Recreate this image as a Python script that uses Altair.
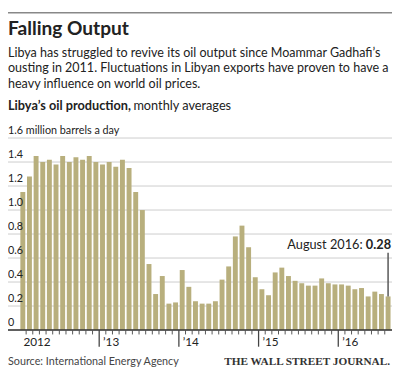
import altair as alt
import pandas as pd

# ---- data (million barrels a day, monthly averages, Jan 2012 - Aug 2016)
y2012 = [1.15, 1.28, 1.45, 1.40, 1.42, 1.38, 1.45, 1.40, 1.44, 1.42, 1.45, 1.40]
y2013 = [1.38, 1.40, 1.36, 1.42, 1.35, 1.15, 1.00, 0.55, 0.30, 0.45, 0.22, 0.23]
y2014 = [0.50, 0.36, 0.24, 0.22, 0.22, 0.24, 0.42, 0.53, 0.78, 0.87, 0.69, 0.44]
y2015 = [0.34, 0.29, 0.48, 0.52, 0.45, 0.41, 0.39, 0.37, 0.37, 0.43, 0.39, 0.38]
y2016 = [0.38, 0.37, 0.34, 0.35, 0.28, 0.32, 0.30, 0.28]

year_labels = ["2012", "\u201913", "\u201914", "\u201915", "\u201916"]
y_ticks = [0, 0.2, 0.4, 0.6, 0.8, 1.0, 1.2, 1.4, 1.6]
y_tick_labels = ["0", "0.2", "0.4", "0.6", "0.8", "1.0", "1.2", "1.4",
                 "1.6 million barrels a day"]

title = "Falling Output"
sub1 = "Libya has struggled to revive its oil output since Moammar Gadhafi\u2019s"
sub2 = "ousting in 2011. Fluctuations in Libyan exports have proven to have a"
sub3 = "heavy influence on world oil prices."
chart_label_bold = "Libya\u2019s oil production,"
chart_label_rest = "monthly averages"
annot_label = "August 2016:"
annot_value = "0.28"
source = "Source: International Energy Agency"
credit = "THE WALL STREET JOURNAL."

values = y2012 + y2013 + y2014 + y2015 + y2016
n = len(values)
bars = pd.DataFrame({
    "i": list(range(n)),
    "v": values,
})
bars["x0"] = bars["i"] + 0.13
bars["x1"] = bars["i"] + 0.87
bars["zero"] = 0.0

years = pd.DataFrame({"pos": [0, 12, 24, 36, 48], "label": year_labels})
major = years[years["pos"] > 0]
minor = pd.DataFrame({"pos": [m for m in range(1, n) if m % 12 != 0]})
last = pd.DataFrame({"pos": [n - 0.5], "v": [values[-1]]})
gridd = pd.DataFrame({"g": y_ticks, "lab": y_tick_labels})

W, H = 392, 196
FONT = "Lato"
INK = "#222222"
BAR = "#b8af7d"

xs = alt.Scale(domain=[-1.73, 56.09], nice=False, zero=False)
ys = alt.Scale(domain=[0, 1.6], nice=False)

grid = alt.Chart(gridd).mark_rule(color="#cccccc", strokeWidth=1).encode(
    y=alt.Y("g:Q", scale=ys, axis=None),
    x=alt.value(0), x2=alt.value(W),
)
grid_labels = alt.Chart(gridd).mark_text(align="left", baseline="alphabetic", dy=-4,
                                         font=FONT, fontSize=11, color=INK).encode(
    y=alt.Y("g:Q", scale=ys, axis=None), x=alt.value(0), text="lab:N")

bar_layer = alt.Chart(bars).mark_rect(color=BAR).encode(
    x=alt.X("x0:Q", scale=xs, axis=None),
    x2="x1:Q",
    y=alt.Y("v:Q", scale=ys, axis=None),
    y2="zero:Q",
)

baseline = alt.Chart(pd.DataFrame({"a": [0]})).mark_rule(color="#333333", strokeWidth=1.5).encode(
    x=alt.value(0), x2=alt.value(W), y=alt.value(H))

minor_ticks = alt.Chart(minor).mark_rule(color="#555555", strokeWidth=1).encode(
    x=alt.X("pos:Q", scale=xs, axis=None), y=alt.value(H), y2=alt.value(H + 4.5))
major_ticks = alt.Chart(major).mark_rule(color="#444444", strokeWidth=1.3).encode(
    x=alt.X("pos:Q", scale=xs, axis=None), y=alt.value(H), y2=alt.value(H + 17))
year_text = alt.Chart(years).mark_text(align="left", baseline="alphabetic", dx=4,
                                       font=FONT, fontSize=12, color=INK).encode(
    x=alt.X("pos:Q", scale=xs, axis=None), y=alt.value(H + 16), text="label:N")

annot_rule = alt.Chart(last).mark_rule(color="#555555", strokeWidth=1.5).encode(
    x=alt.X("pos:Q", scale=xs, axis=None), y=alt.Y("v:Q", scale=ys, axis=None), y2=alt.value(117))
annot_val = alt.Chart(last).mark_text(align="right", baseline="alphabetic", dx=3,
                                      font=FONT, fontSize=13, fontWeight="bold", color=INK).encode(
    x=alt.X("pos:Q", scale=xs, axis=None), y=alt.value(113), text=alt.value(annot_value))
annot_txt = alt.Chart(last).mark_text(align="right", baseline="alphabetic", dx=-26,
                                      font=FONT, fontSize=13, color=INK).encode(
    x=alt.X("pos:Q", scale=xs, axis=None), y=alt.value(113), text=alt.value(annot_label))

one = pd.DataFrame({"a": [0]})


def txt(s, x, y, size, weight="normal", align="left", font=FONT, color=INK):
    return alt.Chart(one).mark_text(align=align, baseline="alphabetic", font=font,
                                    fontSize=size, fontWeight=weight, color=color).encode(
        x=alt.value(x), y=alt.value(y), text=alt.value(s))


top_rule = alt.Chart(one).mark_rule(color="#888888", strokeWidth=1.5).encode(
    x=alt.value(0), x2=alt.value(W), y=alt.value(-128))

head = [
    txt(title, 0, -105, 19.5, "bold"),
    txt(sub1, 0, -83, 12.8),
    txt(sub2, 0, -67, 12.8),
    txt(sub3, 0, -51, 12.8),
    txt(chart_label_bold, 0, -29, 13, "bold"),
    txt(chart_label_rest, 128, -29, 13),
    txt(source, 0, 232, 11, color="#444444"),
    txt(credit, 390, 232, 11.5, "bold", align="right", font="Liberation Serif", color="#333333"),
]

chart = alt.layer(
    grid, bar_layer, baseline, minor_ticks, major_ticks, year_text,
    annot_rule, annot_txt, annot_val, grid_labels, top_rule, *head
).properties(
    width=W, height=H,
    autosize=alt.AutoSizeParams(type="none"),
    padding={"left": 0, "top": 129, "right": 0, "bottom": 34},
).configure_view(stroke=None)

chart.save("out.html", embed_options={"renderer": "svg", "actions": False})
